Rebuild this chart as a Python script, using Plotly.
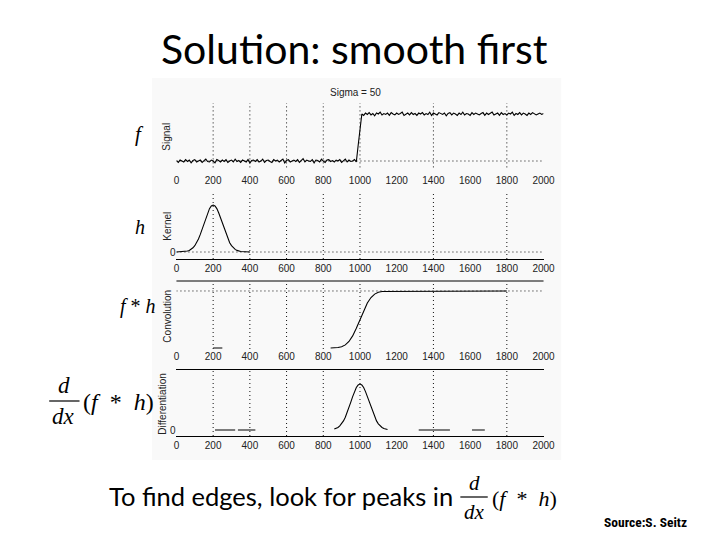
import plotly.graph_objects as go

# page body has an 8px default margin, so the figure is 712x532 placed at (8, 8)
OFF = 8
W, H = 720 - OFF, 540 - OFF

# ---------------- data ----------------
TICK_X = [0, 200, 400, 600, 800, 1000, 1200, 1400, 1600, 1800, 2000]
TICK_LABELS = ["0", "200", "400", "600", "800", "1000", "1200", "1400", "1600", "1800", "2000"]
GRID_X = [200, 400, 600, 800, 1000, 1400, 1800]

SIGNAL_X = list(range(0, 2001, 10))
SIGNAL_LOW = [
    0.01, -0.03, 0.02, 0.00, -0.02, 0.03, -0.01, 0.02, -0.04, 0.01,
    0.03, -0.02, 0.00, 0.02, -0.03, 0.01, 0.04, -0.01, -0.02, 0.02,
    0.00, -0.04, 0.03, 0.01, -0.02, 0.02, -0.01, 0.03, -0.03, 0.00,
    0.02, -0.02, 0.04, -0.01, 0.01, -0.03, 0.02, 0.00, -0.02, 0.03,
    -0.04, 0.01, 0.02, -0.01, 0.03, -0.02, 0.00, 0.04, -0.03, 0.01,
    0.02, -0.01, -0.03, 0.03, 0.00, 0.02, -0.02, 0.01, 0.04, -0.04,
    0.01, 0.03, -0.02, 0.00, 0.02, -0.01, 0.03, -0.03, 0.01, 0.05,
    -0.02, 0.02, 0.00, -0.01, 0.03, -0.04, 0.02, 0.01, -0.02, 0.04,
    0.00, -0.03, 0.02, 0.03, -0.01, 0.01, -0.02, 0.02, 0.00, 0.03,
    -0.03, 0.01, 0.04, -0.02, 0.02, -0.01, 0.00, 0.03, -0.02]
SIGNAL_RAMP = [0.33, 0.67]
SIGNAL_HIGH = [
    1.00, 0.97, 1.02, 0.99, 1.03, 0.98, 1.01, 0.96, 1.02, 1.00,
    1.04, 0.98, 1.01, 0.99, 1.02, 0.97, 1.03, 1.00, 0.98, 1.02,
    0.99, 1.01, 1.04, 0.97, 1.00, 1.02, 0.98, 1.03, 0.99, 1.01,
    0.97, 1.02, 1.00, 1.03, 0.98, 1.01, 0.99, 1.04, 0.97, 1.02,
    1.00, 0.98, 1.03, 1.01, 0.99, 1.02, 0.96, 1.01, 1.03, 0.98,
    1.02, 1.00, 0.97, 1.02, 0.99, 1.04, 0.98, 1.01, 1.00, 0.97,
    1.03, 0.99, 1.02, 1.00, 0.98, 1.01, 1.03, 0.97, 1.02, 0.99,
    1.01, 1.04, 0.98, 1.00, 1.02, 0.97, 1.03, 0.99, 1.01, 0.98,
    1.02, 1.00, 1.04, 0.97, 1.01, 0.99, 1.03, 0.98, 1.02, 1.00,
    0.97, 1.02, 0.99, 1.03, 1.01, 0.98, 1.00, 1.02, 0.99, 1.01]
SIGNAL_Y = SIGNAL_LOW + SIGNAL_RAMP + SIGNAL_HIGH

KERNEL_X = [0] + list(range(50, 351, 10)) + [400]
KERNEL_Y = [0.0,
            0.011, 0.020, 0.034, 0.056, 0.089, 0.135, 0.198, 0.278, 0.375, 0.487,
            0.607, 0.726, 0.835, 0.923, 0.980, 1.000, 0.980, 0.923, 0.835, 0.726,
            0.607, 0.487, 0.375, 0.278, 0.198, 0.135, 0.089, 0.056, 0.034, 0.020,
            0.011,
            0.0]

CONV_X = [200, 250, None] + list(range(840, 1121, 20)) + [1800]
CONV_Y = [0.0, 0.0, None,
          0.001, 0.003, 0.008, 0.023, 0.055, 0.115, 0.212, 0.345, 0.500,
          0.655, 0.788, 0.885, 0.945, 0.977, 0.992,
          1.0]

DIFF_X = ([210, 320, None, 335, 430, None] + list(range(860, 1151, 10))
          + [None, 1320, 1490, None, 1610, 1680])
DIFF_Y = ([0.0, 0.0, None, 0.0, 0.0, None] +
          [0.020, 0.034, 0.056, 0.089, 0.135, 0.198, 0.278, 0.375, 0.487, 0.607,
           0.726, 0.835, 0.923, 0.980, 1.000, 0.980, 0.923, 0.835, 0.726, 0.607,
           0.487, 0.375, 0.278, 0.198, 0.135, 0.089, 0.056, 0.034, 0.020, 0.011]
          + [None, 0.0, 0.0, None, 0.0, 0.0])

# ---------------- layout helpers (screen pixels -> paper) ----------------
def px(x):
    return (x - OFF) / W

def py(y):
    return 1 - (y - OFF) / H

X_LEFT, X_RIGHT = 177, 552
# (top px, bottom px, y range)
PANELS = [
    (103, 173, [-0.255, 1.234]),
    (192, 259, [-0.149, 1.277]),
    (281, 349, [-0.0175, 1.175]),
    (370, 436, [-0.130, 1.304]),
]

fig = go.Figure()
LINE = dict(color="black", width=1.1)
DOT = dict(color="#111", width=1, dash="1px,3px")

series = [(SIGNAL_X, SIGNAL_Y), (KERNEL_X, KERNEL_Y), (CONV_X, CONV_Y), (DIFF_X, DIFF_Y)]
for i, (xs, ys) in enumerate(series):
    n = "" if i == 0 else str(i + 1)
    fig.add_trace(go.Scatter(x=xs, y=ys, mode="lines", line=LINE,
                             connectgaps=False, showlegend=False, hoverinfo="skip",
                             xaxis="x" + n, yaxis="y" + n))

TICKFONT = dict(family="Liberation Sans, Arial", size=10, color="#222")

# light background of the embedded figure (first, so everything is above it)
shapes = [dict(type="rect", xref="paper", yref="paper",
               x0=px(152), x1=px(570), y0=py(460), y1=py(78),
               fillcolor="#f9f9f9", line=dict(width=0), layer="below")]

for i, (top, bot, yr) in enumerate(PANELS):
    n = "" if i == 0 else str(i + 1)
    xa = dict(domain=[px(X_LEFT), px(X_RIGHT)], range=[0, 2000],
              tickvals=TICK_X, ticktext=TICK_LABELS, tickfont=TICKFONT,
              showgrid=False, zeroline=False, ticks="",
              anchor="y" + n, fixedrange=True)
    ya = dict(domain=[py(bot), py(top)], range=yr, showgrid=False, zeroline=False,
              ticks="", anchor="x" + n, fixedrange=True, tickfont=TICKFONT)
    if i in (1, 3):
        ya.update(tickvals=[0], ticktext=["0"])
    else:
        ya.update(showticklabels=False)
    if i == 1:
        xa.update(showline=True, linecolor="black", linewidth=1)
    if i == 3:
        xa.update(showline=True, linecolor="black", linewidth=1, mirror=True)
    fig.update_layout(**{"xaxis" + n: xa, "yaxis" + n: ya})
    xref = "x" + n
    yref = "y" + n
    g_bottom = 0.08 if i == 0 else 0
    for gx in GRID_X:
        shapes.append(dict(type="line", xref=xref, yref=yref + " domain",
                           x0=gx, x1=gx, y0=g_bottom, y1=1, layer="above", line=DOT))
    if i == 2:
        shapes.append(dict(type="line", xref=xref + " domain", yref=yref + " domain",
                           x0=0, x1=1, y0=1, y1=1,
                           line=dict(color="black", width=1)))

# horizontal dotted reference lines
shapes.append(dict(type="line", xref="x", yref="y", x0=0, x1=2000, y0=0, y1=0,
                   layer="above", line=DOT))
shapes.append(dict(type="line", xref="x2", yref="y2", x0=0, x1=2000, y0=0, y1=0,
                   layer="above", line=DOT))
shapes.append(dict(type="line", xref="x3", yref="y3", x0=0, x1=2000, y0=1, y1=1,
                   layer="above", line=DOT))

# fraction bars
shapes.append(dict(type="line", xref="paper", yref="paper",
                   x0=px(47), x1=px(78), y0=py(401), y1=py(401),
                   line=dict(color="black", width=1.2)))
shapes.append(dict(type="line", xref="paper", yref="paper",
                   x0=px(467), x1=px(495), y0=py(497), y1=py(497),
                   line=dict(color="black", width=1.2)))

MATH = "Liberation Serif, Times New Roman, serif"
ann = []

def text(x, y, s, size, family="Liberation Sans, Arial", color="black", angle=0,
         xanchor="center"):
    ann.append(dict(x=px(x), y=py(y), xref="paper", yref="paper", text=s,
                    showarrow=False, textangle=angle, xanchor=xanchor, yanchor="middle",
                    font=dict(family=family, size=size, color=color)))

text(359, 49, "Solution: smooth first", 41, family="Lato, Carlito, Calibri, sans-serif")
text(360, 92, "Sigma = 50", 10, color="#222")
text(167, 137, "Signal", 10, color="#222", angle=-90)
text(167, 226, "Kernel", 10, color="#222", angle=-90)
text(167, 316, "Convolution", 10, color="#222", angle=-90)
text(162, 404, "Differentiation", 10, color="#222", angle=-90)

text(139, 134, "<i>f</i>", 21, family=MATH)
text(140, 227, "<i>h</i>", 20, family=MATH)
text(138, 306, "<i>f</i> * <i>h</i>", 20, family=MATH)

text(62, 385, "<i>d</i>", 23, family=MATH)
text(62, 416, "<i>dx</i>", 23, family=MATH)
text(79, 402, "(<i>f</i>  *  <i>h</i>)", 24, family=MATH, xanchor="left")

text(106, 496, "To find edges, look for peaks in", 25.5,
     family="Lato, Carlito, Calibri, sans-serif", xanchor="left")
text(481, 483, "<i>d</i>", 21, family=MATH)
text(481, 512, "<i>dx</i>", 21, family=MATH)
text(497, 498, "(<i>f</i>  *  <i>h</i>)", 22, family=MATH, xanchor="left")

text(656, 522, "<b>Source:S. Seitz</b>", 13.5,
     family="Roboto Condensed, Liberation Sans Narrow, Roboto, sans-serif")

fig.update_layout(width=W, height=H, margin=dict(l=0, r=0, t=0, b=0),
                  paper_bgcolor="white", plot_bgcolor="rgba(0,0,0,0)",
                  shapes=shapes, annotations=ann, showlegend=False)

fig.write_html("out.html")
